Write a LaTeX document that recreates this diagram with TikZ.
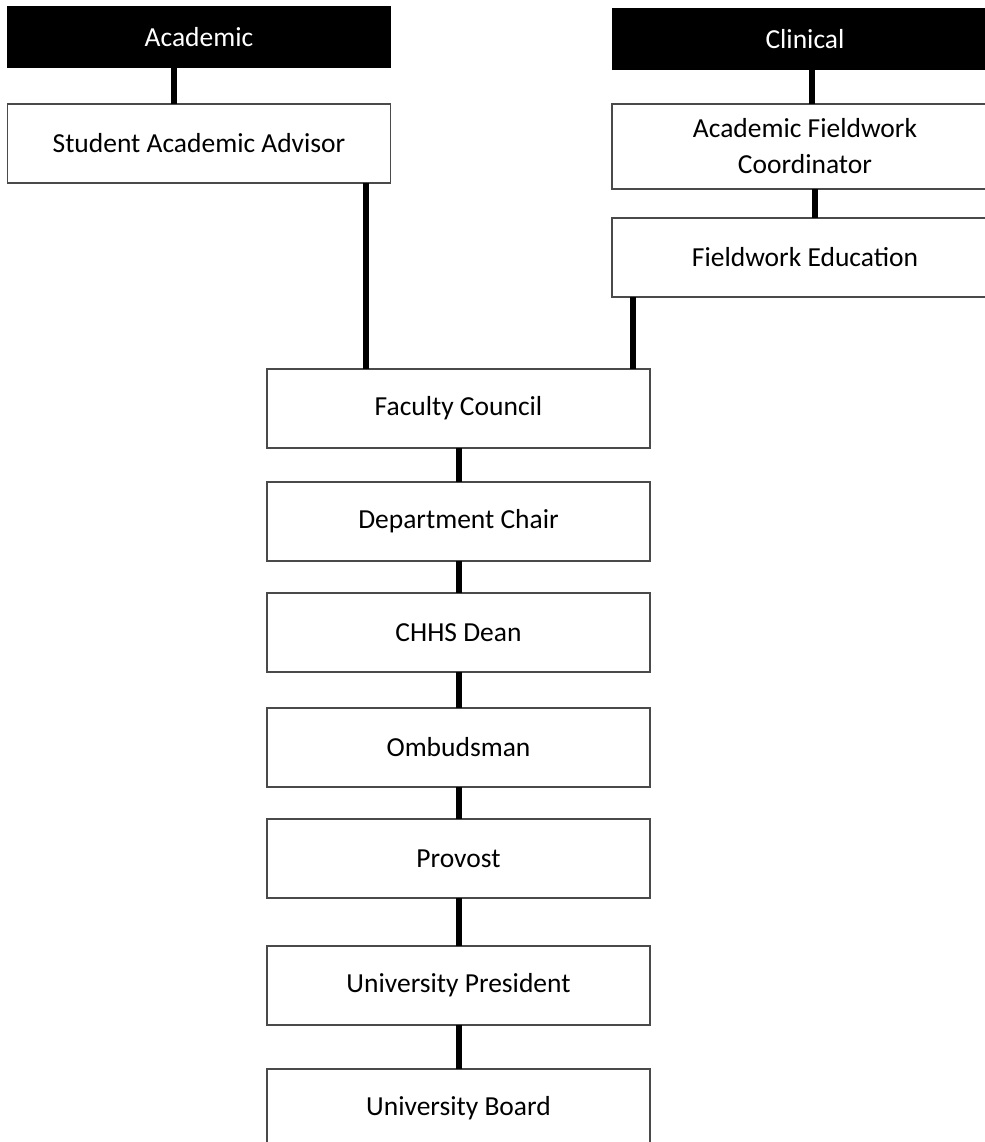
\documentclass[tikz,border=0pt]{standalone}
\usepackage{fontspec}
\setmainfont{Carlito}
\usetikzlibrary{positioning}
\definecolor{edgegray}{HTML}{4A4A4A}

\begin{document}
\begin{tikzpicture}[
  node distance=16pt,
  every node/.style={outer sep=0pt},
  box/.style={draw=edgegray, line width=0.6pt, fill=white, text=black,
              font={\fontsize{13.75pt}{18pt}\selectfont}, minimum width=191.5pt,
              minimum height=39.5pt, align=center, inner sep=2pt},
  hdr/.style={fill=black, text=white, font={\fontsize{13.75pt}{18pt}\selectfont},
              minimum height=31pt, inner sep=2pt},
  link/.style={line width=3pt, black},
]
\useasboundingbox (0,0) rectangle (492.5pt,-571pt);

% Academic side
\node[hdr, minimum width=192pt] (ah) at (99.5pt,-18.5pt) {Academic};
\node[box, below=18pt of ah] (sa) {Student Academic Advisor};
\draw[link] ([xshift=-12.5pt]ah.south) -- ([xshift=-12.5pt]ah.south |- sa.north);

% Clinical side
\node[hdr, minimum width=193pt] (ch) at (402.5pt,-19.5pt) {Clinical};
\node[box, minimum width=193pt, minimum height=42.5pt, below=17pt of ch] (afc) {Academic Fieldwork\\Coordinator};
\node[box, minimum width=193pt, below=14.5pt of afc] (fe) {Fieldwork Education};
\draw[link] ([xshift=3.5pt]ch.south) -- ([xshift=3.5pt]ch.south |- afc.north);
\draw[link] ([xshift=5pt]afc.south) -- ([xshift=5pt]afc.south |- fe.north);

% Chain of appeal
\node[box] (fc) at (229.25pt,-204.25pt) {Faculty Council};
\node[box, below=17pt of fc] (dc) {Department Chair};
\node[box, below=of dc] (dean) {CHHS Dean};
\node[box, below=18pt of dean] (omb) {Ombudsman};
\node[box, below=of omb] (prov) {Provost};
\node[box, below=24pt of prov] (pres) {University President};
\node[box, below=22pt of pres] (board) {University Board};

\draw[link] ([xshift=-12.5pt]sa.south east) -- ([xshift=-12.5pt]sa.south east |- fc.north);
\draw[link] ([xshift=10.5pt]fe.south west) -- ([xshift=10.5pt]fe.south west |- fc.north);
\draw[link] (fc) -- (dc);
\draw[link] (dc) -- (dean);
\draw[link] (dean) -- (omb);
\draw[link] (omb) -- (prov);
\draw[link] (prov) -- (pres);
\draw[link] (pres) -- (board);
\end{tikzpicture}
\end{document}
